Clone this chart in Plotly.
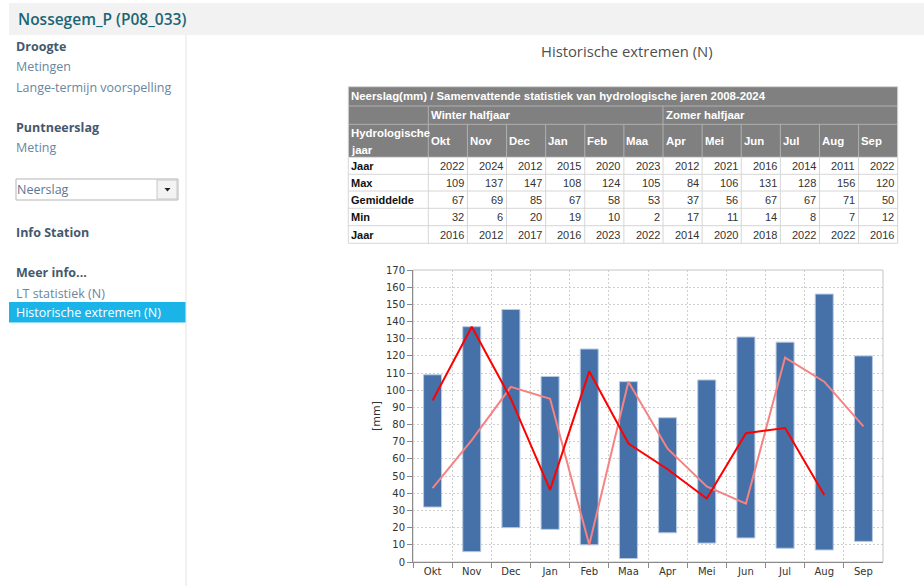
import plotly.graph_objects as go

W, H = 924, 586

# ---------------- data ----------------
months = ["Okt", "Nov", "Dec", "Jan", "Feb", "Maa", "Apr", "Mei", "Jun", "Jul", "Aug", "Sep"]
jaar_max = [2022, 2024, 2012, 2015, 2020, 2023, 2012, 2021, 2016, 2014, 2011, 2022]
max_vals = [109, 137, 147, 108, 124, 105, 84, 106, 131, 128, 156, 120]
mean_vals = [67, 69, 85, 67, 58, 53, 37, 56, 67, 67, 71, 50]
min_vals = [32, 6, 20, 19, 10, 2, 17, 11, 14, 8, 7, 12]
jaar_min = [2016, 2012, 2017, 2016, 2023, 2022, 2014, 2020, 2018, 2022, 2022, 2016]
line_red = [94, 137, 95, 42, 111, 69, 54, 37, 75, 78, 39, None]
line_pink = [43, 71, 102, 95, 10, 105, 66, 44, 34, 119, 105, 79]

table_rows = [("Jaar", jaar_max), ("Max", max_vals), ("Gemiddelde", mean_vals),
              ("Min", min_vals), ("Jaar", jaar_min)]

menu_items = [
    ("Droogte", 46, True), ("Metingen", 66, False), ("Lange-termijn voorspelling", 87, False),
    ("Puntneerslag", 127, True), ("Meting", 147, False),
    ("Info Station", 232, True), ("Meer info...", 272, True), ("LT statistiek (N)", 293, False),
]

# ---------------- helpers ----------------
shapes, annotations = [], []


def px(x):
    return x / W


def py(y):
    return 1 - y / H


def rect(x0, y0, x1, y1, fill=None, line=None, lw=1):
    shapes.append(dict(type="rect", xref="paper", yref="paper",
                       x0=px(x0), x1=px(x1), y0=py(y1), y1=py(y0),
                       fillcolor=fill or "rgba(0,0,0,0)",
                       line=dict(color=line or "rgba(0,0,0,0)", width=lw if line else 0),
                       layer="below"))


def hline(x0, x1, y, color, w=1):
    shapes.append(dict(type="line", xref="paper", yref="paper",
                       x0=px(x0), x1=px(x1), y0=py(y), y1=py(y),
                       line=dict(color=color, width=w), layer="below"))


def vline(x, y0, y1, color, w=1):
    shapes.append(dict(type="line", xref="paper", yref="paper",
                       x0=px(x), x1=px(x), y0=py(y0), y1=py(y1),
                       line=dict(color=color, width=w), layer="below"))


def text(x, y, s, size, color, family="Open Sans", xanchor="left", bold=False, angle=0, weight=None):
    f = dict(family=family, size=size, color=color)
    if weight:
        f["weight"] = weight
    annotations.append(dict(x=px(x), y=py(y), xref="paper", yref="paper",
                            text=("<b>%s</b>" % s) if bold else s, showarrow=False,
                            xanchor=xanchor, yanchor="middle", textangle=angle,
                            font=f))


# ---------------- page chrome ----------------
rect(9, 3, 924, 35, fill="#f2f2f2")
text(16, 19, "Nossegem_P (P08_033)", 15.5, "#1b6676", weight=600)
vline(186, 35, 586, "#e3e3e3")

for label, y, bold in menu_items:
    text(14, y, label, 12.5, "#44596d" if bold else "#6a86a0", bold=bold)

# dropdown
rect(16, 179, 178, 200, fill="#ffffff", line="#b5b5b5")
rect(157, 180, 177, 199, fill="#f3f3f3", line="#c8c8c8")
text(15, 189.5, "Neerslag", 12.5, "#5a7896")
shapes.append(dict(type="path", xref="paper", yref="paper",
                   path="M %f,%f L %f,%f L %f,%f Z" % (px(164.5), py(188), px(170.5), py(188), px(167.5), py(191.5)),
                   fillcolor="#222222", line=dict(width=0), layer="above"))

# highlighted item
rect(9, 302, 185.5, 322.5, fill="#1ab4e8")
text(14, 312, "Historische extremen (N)", 12.5, "#ffffff")

# page title
text(627, 51, "Historische extremen (N)", 14.8, "#4f4f4f", xanchor="center")

# ---------------- table ----------------
tx0, tx1 = 348.3, 897.7
c0 = 428.3
cw = (tx1 - c0) / 12
col_b = [c0 + i * cw for i in range(13)]
row_b = [86.7, 106, 124.3, 157.3, 174.3, 191, 208.3, 225.7, 243.3]
hdr_fill = "#808080"
hdr_line = "#b0b0b0"
grid_line = "#d6d6d6"

rect(tx0, row_b[0], tx1, row_b[3], fill=hdr_fill)
rect(tx0, row_b[3], tx1, row_b[-1], fill="#ffffff")
for yb in row_b[1:3]:
    hline(tx0, tx1, yb, hdr_line)
vline(c0, row_b[1], row_b[3], hdr_line)
vline(col_b[6], row_b[1], row_b[3], hdr_line)
for xb in col_b[1:12]:
    if xb != col_b[6]:
        vline(xb, row_b[2], row_b[3], hdr_line)
for yb in row_b[3:]:
    hline(tx0, tx1, yb, grid_line)
for xb in [tx0, c0] + col_b[1:]:
    vline(xb, row_b[3], row_b[-1], grid_line)
vline(tx0, row_b[0], row_b[3], grid_line)
vline(tx1, row_b[0], row_b[3], grid_line)
hline(tx0, tx1, row_b[0], grid_line)

TF = "Liberation Sans"
HS = 11.4
text(348.5, (row_b[0] + row_b[1]) / 2,
     "Neerslag(mm) / Samenvattende statistiek van hydrologische jaren 2008-2024",
     HS, "#ffffff", family=TF, bold=True)
text(c0 + 0.5, (row_b[1] + row_b[2]) / 2, "Winter halfjaar", HS, "#ffffff", family=TF, bold=True)
text(col_b[6] + 0.5, (row_b[1] + row_b[2]) / 2, "Zomer halfjaar", HS, "#ffffff", family=TF, bold=True)
text(348.5, 133, "Hydrologische", HS, "#ffffff", family=TF, bold=True)
text(348.5, 150, "jaar", HS, "#ffffff", family=TF, bold=True)
for i, m in enumerate(months):
    text(col_b[i] + 0.5, (row_b[2] + row_b[3]) / 2, m, HS, "#ffffff", family=TF, bold=True)

for r, (label, vals) in enumerate(table_rows):
    yc = (row_b[3 + r] + row_b[4 + r]) / 2
    text(348.5, yc, label, 11, "#111111", family=TF, bold=True)
    for i, v in enumerate(vals):
        text(col_b[i + 1] - 1.5, yc, str(v), 11, "#333333", family=TF, xanchor="right")

# ---------------- chart ----------------
fig = go.Figure()
fig.add_trace(go.Bar(
    x=months, y=[mx - mn for mx, mn in zip(max_vals, min_vals)], base=min_vals,
    width=0.46, marker=dict(color="#4571a8", line=dict(color="#b8cae3", width=1)),
    name="Min-Max", showlegend=False, hoverinfo="skip"))
fig.add_trace(go.Scatter(x=months, y=line_pink, mode="lines", name="2023",
                         line=dict(color="#f58383", width=2), showlegend=False))
fig.add_trace(go.Scatter(x=months, y=line_red, mode="lines", name="2024",
                         line=dict(color="#ff0000", width=2), showlegend=False))

shapes.append(dict(type="rect", xref="x domain", yref="y domain", x0=0, x1=1, y0=0, y1=1,
                   line=dict(color="#c4c4c4", width=1), fillcolor="rgba(0,0,0,0)", layer="below"))

text(376, 416, "[mm]", 11, "#333333", family="DejaVu Sans", xanchor="center", angle=-90)

axis_font = dict(family="DejaVu Sans", size=10, color="#333333")
fig.update_layout(
    width=W, height=H, margin=dict(l=0, r=0, t=0, b=0, pad=0, autoexpand=False),
    paper_bgcolor="#ffffff", plot_bgcolor="rgba(0,0,0,0)",
    showlegend=False, barmode="overlay",
    xaxis=dict(domain=[px(413), px(883)], type="category", range=[-0.5, 11.5],
               tickson="boundaries", ticks="outside", ticklen=5, tickcolor="#8a8a8a",
               showline=True, linecolor="#8a8a8a", linewidth=1, automargin=False,
               showgrid=True, gridcolor="#cfcfcf", griddash="2px,2px", gridwidth=1,
               tickfont=axis_font, fixedrange=True),
    yaxis=dict(domain=[py(562), py(270)], range=[0, 170], dtick=10,
               ticks="outside", ticklen=5, tickcolor="#8a8a8a", automargin=False,
               showline=True, linecolor="#8a8a8a", linewidth=1, zeroline=False,
               showgrid=True, gridcolor="#cfcfcf", griddash="2px,2px", gridwidth=1,
               tickfont=axis_font, fixedrange=True),
    shapes=shapes, annotations=annotations,
)

fig.write_html("out.html", config={"displayModeBar": False},
               post_script="document.body.style.margin='0px';document.body.style.overflow='hidden';")
